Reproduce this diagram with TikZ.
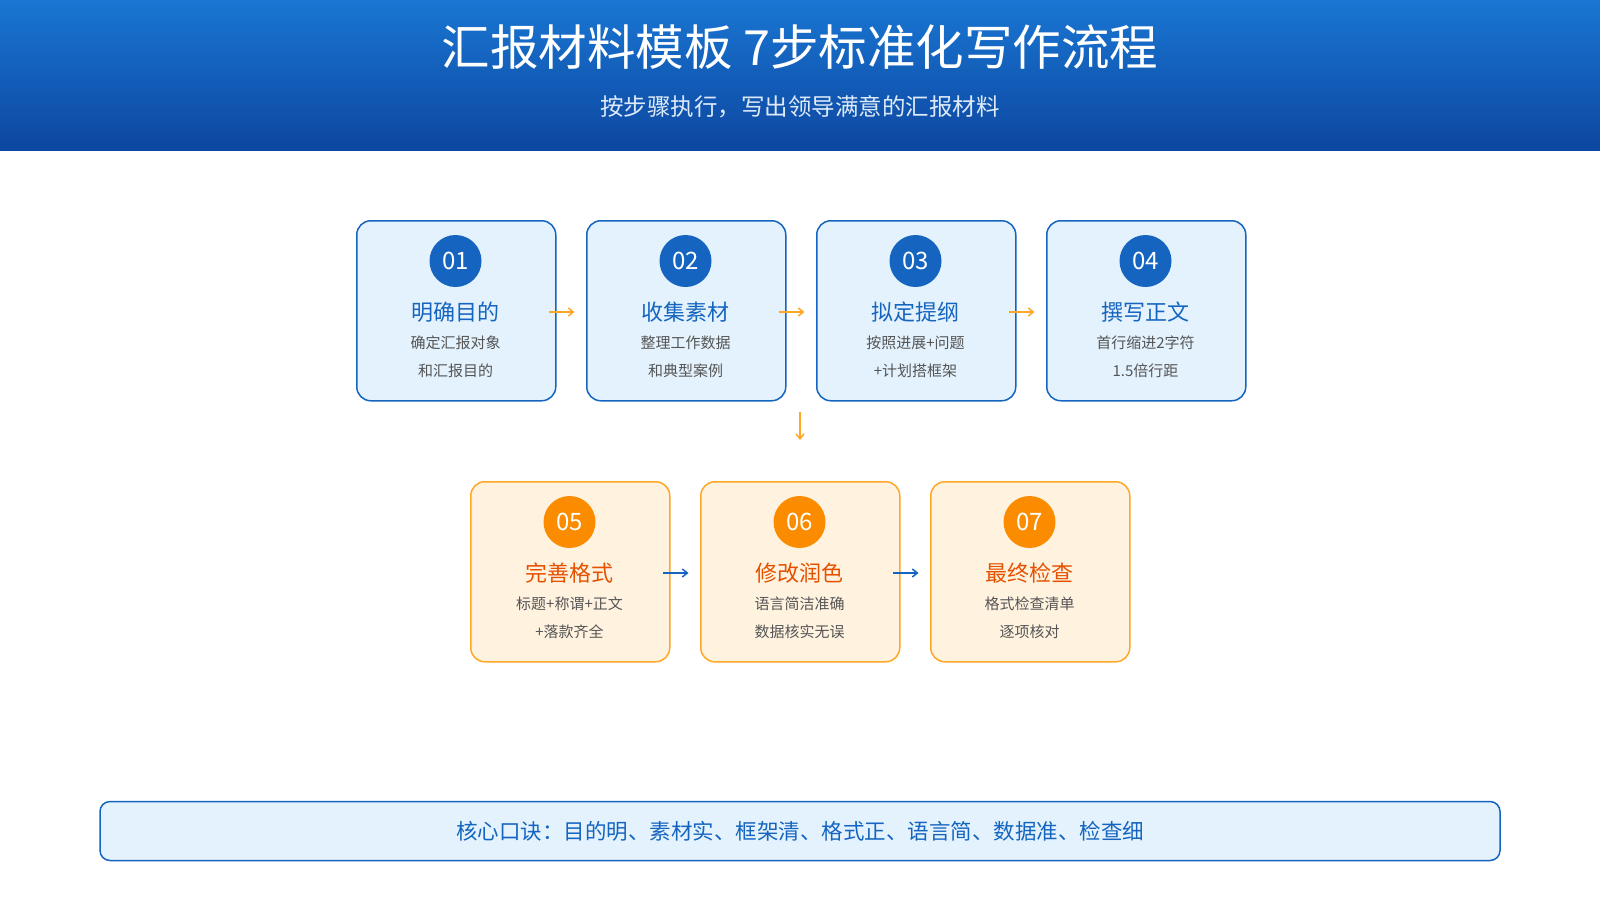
\documentclass[tikz,border=0pt]{standalone}
\usepackage{fontspec}
\setmainfont{Noto Sans CJK SC}
\usetikzlibrary{arrows.meta}
\definecolor{hb1}{HTML}{1976D2}\definecolor{hb2}{HTML}{0D47A1}
\definecolor{bl}{HTML}{1565C0}\definecolor{blf}{HTML}{E3F2FD}
\definecolor{orb}{HTML}{FFA726}\definecolor{orf}{HTML}{FFF3E0}
\definecolor{orc}{HTML}{FB8C00}\definecolor{ort}{HTML}{E65100}
\definecolor{gr}{HTML}{555555}
\begin{document}
\begin{tikzpicture}[x=1pt,y=-1pt,
 box/.style={draw=#1,line width=1.5pt,rounded corners=14pt,minimum width=199pt,minimum height=180pt,anchor=north west},
 num/.style={circle,fill=#1,minimum size=52pt,inner sep=0pt,text=white,font=\fontsize{24}{24}\selectfont},
 ttl/.style={text=#1,font=\fontsize{22}{22}\selectfont},
 sub/.style={text=gr,font=\fontsize{15}{15}\selectfont},
 arr/.style={draw=#1,line width=1.5pt,-{Straight Barb[length=5pt,width=8pt]}}]
\useasboundingbox (0,0) rectangle (1600,900);
\fill[white] (0,0) rectangle (1600,900);
\shade[top color=hb1,bottom color=hb2] (0,0) rectangle (1600,150);
\node[text=white,font=\fontsize{48.5}{48.5}\selectfont] (title) at (800,47) {汇报材料模板 7步标准化写作流程};
\node[text=white!85!hb1,font=\fontsize{23.5}{23.5}\selectfont] (subt) at (800,107) {按步骤执行，写出领导满意的汇报材料};
\foreach \i/\x/\y/\t/\a/\b/\c in {
 1/356/220/明确目的/确定汇报对象/和汇报目的/b,
 2/586/220/收集素材/整理工作数据/和典型案例/b,
 3/816/220/拟定提纲/按照进展+问题/+计划搭框架/b,
 4/1046/220/撰写正文/首行缩进2字符/1.5倍行距/b,
 5/470/481/完善格式/标题+称谓+正文/+落款齐全/o,
 6/700/481/修改润色/语言简洁准确/数据核实无误/o,
 7/930/481/最终检查/格式检查清单/逐项核对/o}{
 \if\c b
  \node[box=bl,fill=blf] (b\i) at (\x,\y) {};
  \node[num=bl] (n\i) at (\x+99.5,\y+41) {0\i};
  \node[ttl=bl] (t\i) at (\x+99.5,\y+92) {\t};
 \else
  \node[box=orb,fill=orf] (b\i) at (\x,\y) {};
  \node[num=orc] (n\i) at (\x+99.5,\y+41) {0\i};
  \node[ttl=ort] (t\i) at (\x+99.5,\y+92) {\t};
 \fi
 \node[sub] (s\i) at (\x+99.5,\y+123) {\a};
 \node[sub] (r\i) at (\x+99.5,\y+151) {\b};
}
\foreach \a/\b in {1/2,2/3,3/4}{
 \draw[arr=orb] ([xshift=-8pt]b\a.east|-t\a) -- ([xshift=18pt]b\a.east|-t\a);}
\foreach \a/\b in {5/6,6/7}{
 \draw[arr=bl] ([xshift=-8pt]b\a.east|-t\a) -- ([xshift=18pt]b\a.east|-t\a);}
\coordinate (d1) at (800,412); \coordinate (d2) at (800,440);
\draw[arr=orb] (d1) -- (d2);
\node[draw=bl,line width=1.5pt,fill=blf,rounded corners=10pt,minimum width=1400pt,minimum height=59pt,text=bl,font=\fontsize{21.5}{21.5}\selectfont] (bar) at (800,831) {核心口诀：目的明、素材实、框架清、格式正、语言简、数据准、检查细};
\end{tikzpicture}
\end{document}
